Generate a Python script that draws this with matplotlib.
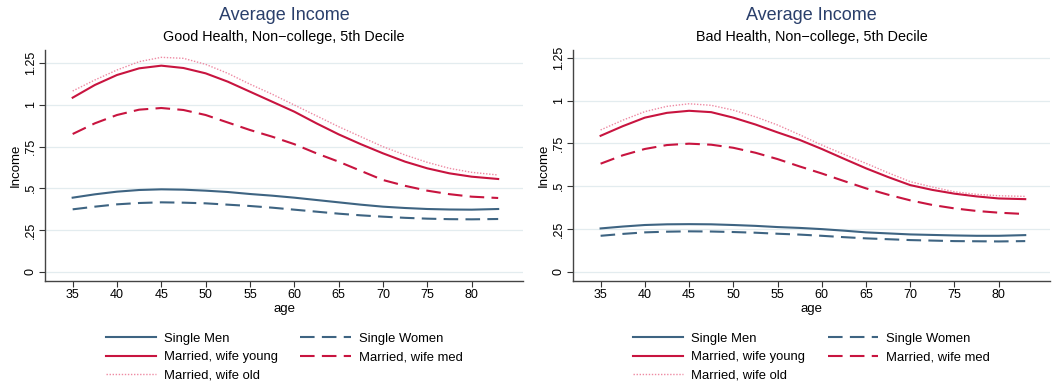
import matplotlib
matplotlib.use("Agg")
import matplotlib.pyplot as plt

ages = [35, 37.5, 40, 42.5, 45, 47.5, 50, 52.5, 55, 57.5,
        60, 62.5, 65, 67.5, 70, 72.5, 75, 77.5, 80, 83]

# Good health panel
good_single_men = [0.444, 0.464, 0.480, 0.490, 0.494, 0.492, 0.486, 0.478, 0.466, 0.456,
                   0.444, 0.430, 0.416, 0.402, 0.390, 0.382, 0.376, 0.373, 0.372, 0.376]
good_single_women = [0.374, 0.390, 0.404, 0.412, 0.416, 0.414, 0.410, 0.402, 0.394, 0.384,
                     0.372, 0.360, 0.348, 0.338, 0.330, 0.323, 0.318, 0.315, 0.314, 0.316]
good_wife_young = [1.044, 1.120, 1.180, 1.220, 1.236, 1.222, 1.190, 1.140, 1.080, 1.020,
                   0.960, 0.890, 0.824, 0.765, 0.710, 0.660, 0.620, 0.590, 0.570, 0.556]
good_wife_med = [0.826, 0.890, 0.940, 0.972, 0.982, 0.970, 0.940, 0.895, 0.850, 0.810,
                 0.765, 0.710, 0.660, 0.605, 0.550, 0.515, 0.486, 0.465, 0.450, 0.442]
good_wife_old = [1.084, 1.150, 1.210, 1.260, 1.286, 1.280, 1.244, 1.190, 1.125, 1.065,
                 1.000, 0.935, 0.870, 0.810, 0.750, 0.700, 0.656, 0.620, 0.596, 0.580]

# Bad health panel
bad_single_men = [0.253, 0.264, 0.273, 0.277, 0.278, 0.277, 0.273, 0.268, 0.261, 0.256,
                  0.249, 0.240, 0.230, 0.224, 0.218, 0.215, 0.212, 0.210, 0.210, 0.214]
bad_single_women = [0.210, 0.221, 0.230, 0.234, 0.236, 0.235, 0.232, 0.228, 0.222, 0.217,
                    0.210, 0.202, 0.195, 0.190, 0.185, 0.182, 0.179, 0.178, 0.177, 0.179]
bad_wife_young = [0.794, 0.850, 0.900, 0.928, 0.940, 0.932, 0.900, 0.860, 0.814, 0.770,
                  0.717, 0.660, 0.604, 0.553, 0.506, 0.478, 0.456, 0.440, 0.428, 0.424]
bad_wife_med = [0.631, 0.680, 0.717, 0.740, 0.748, 0.742, 0.724, 0.695, 0.658, 0.615,
                0.574, 0.530, 0.487, 0.450, 0.417, 0.390, 0.370, 0.355, 0.345, 0.337]
bad_wife_old = [0.828, 0.885, 0.935, 0.966, 0.981, 0.972, 0.944, 0.905, 0.857, 0.800,
                0.740, 0.686, 0.633, 0.578, 0.526, 0.495, 0.467, 0.452, 0.444, 0.440]

x_ticks = [35, 40, 45, 50, 55, 60, 65, 70, 75, 80]
y_ticks = [0, 0.25, 0.5, 0.75, 1, 1.25]
y_tick_labels = ["0", ".25", ".5", ".75", "1", "1.25"]

labels = ["Single Men", "Single Women", "Married, wife young",
          "Married, wife med", "Married, wife old"]

BLUE = "#3e6482"
RED = "#c8143f"
PINK = "#ee8aa3"

plt.rcParams["font.family"] = ["Liberation Sans", "DejaVu Sans"]

fig = plt.figure(figsize=(10.52, 3.86), dpi=100)
W, H = 1052.0, 386.0


def panel(rect, ylim, subtitle, series):
    ax = fig.add_axes([rect[0] / W, 1 - rect[3] / H,
                       (rect[2] - rect[0]) / W, (rect[3] - rect[1]) / H])
    sm, sw, wy, wm, wo = series
    h1, = ax.plot(ages, sm, color=BLUE, lw=1.5, label=labels[0])
    h2, = ax.plot(ages, sw, color=BLUE, lw=1.5, dashes=(7, 3.5), label=labels[1])
    h3, = ax.plot(ages, wy, color=RED, lw=1.5, label=labels[2])
    h4, = ax.plot(ages, wm, color=RED, lw=1.5, dashes=(7, 3.5), label=labels[3])
    h5, = ax.plot(ages, wo, color=PINK, lw=1.0, dashes=(1, 1.2), label=labels[4])

    ax.set_xlim(31.88, 85.8)
    ax.set_ylim(*ylim)
    ax.set_xticks(x_ticks)
    ax.set_yticks(y_ticks)
    ax.set_yticklabels(y_tick_labels, rotation=90, va="center")
    ax.tick_params(labelsize=9, length=4, width=0.8, pad=2, color="#333333")
    ax.grid(axis="y", color="#e3ecef", lw=0.9)
    ax.set_axisbelow(True)
    for s in ("top", "right"):
        ax.spines[s].set_visible(False)
    for s in ("left", "bottom"):
        ax.spines[s].set_color("#444444")
        ax.spines[s].set_linewidth(1.0)
    ax.set_ylabel("Income", fontsize=9.5, labelpad=2)
    ax.set_xlabel("age", fontsize=9.5, labelpad=1)

    cx = (rect[0] + rect[2]) / 2 / W
    fig.text(cx, 1 - 16 / H, "Average Income", ha="center", va="center",
             fontsize=13, color="#2a3f6b")
    fig.text(cx, 1 - 37.5 / H, subtitle, ha="center", va="center",
             fontsize=10.4, color="black")

    ax.legend([h1, h3, h5, h2, h4],
              [labels[0], labels[2], labels[4], labels[1], labels[3]],
              ncol=2, frameon=False, loc="upper center",
              bbox_to_anchor=(0.5, -0.172), fontsize=9.4, handlelength=3.85,
              handletextpad=0.6, columnspacing=1.75, labelspacing=0.5)
    return ax


panel((45, 50, 523, 281), (-0.056, 1.33),
      "Good Health, Non\u2212college, 5th Decile",
      (good_single_men, good_single_women, good_wife_young, good_wife_med, good_wife_old))
panel((573, 50, 1050, 281), (-0.054, 1.295),
      "Bad Health, Non\u2212college, 5th Decile",
      (bad_single_men, bad_single_women, bad_wife_young, bad_wife_med, bad_wife_old))

fig.savefig("out.png", dpi=100, facecolor="white")
